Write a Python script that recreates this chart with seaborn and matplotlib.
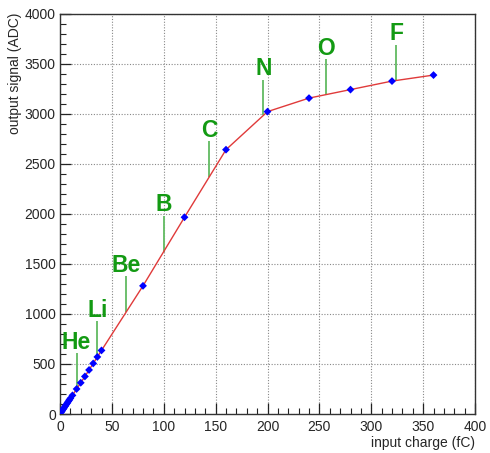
import numpy as np
import pandas as pd
import matplotlib
matplotlib.use("Agg")
import matplotlib.pyplot as plt
import seaborn as sns

# ---- data ----
charge = [1, 2, 3, 4, 5, 6, 7, 8, 9, 10, 12, 16, 20, 24, 28, 32, 36, 40,
          80, 120, 160, 200, 240, 280, 320, 360]
adc = [16, 31, 47, 62, 78, 94, 109, 125, 140, 156, 186, 250, 312, 375, 440, 505, 570, 635,
       1280, 1965, 2640, 3020, 3155, 3240, 3325, 3385]
labels = ["He", "Li", "Be", "B", "C", "N", "O", "F"]
label_charge = [16, 36, 64, 100, 144, 196, 256, 324]
x_ticks = [0, 50, 100, 150, 200, 250, 300, 350, 400]
y_ticks = [0, 500, 1000, 1500, 2000, 2500, 3000, 3500, 4000]

df = pd.DataFrame({"charge": charge, "adc": adc})

sns.set_style("ticks")
plt.rcParams["font.family"] = ["Liberation Sans", "DejaVu Sans"]

fig = plt.figure(figsize=(4.9, 4.53), dpi=100)
ax = fig.add_axes([60 / 490, 1 - 414 / 453, 415 / 490, 400.5 / 453])

sns.lineplot(data=df, x="charge", y="adc", ax=ax, color="#e03a3a", lw=1.0,
             sort=True, estimator=None, zorder=3)
sns.scatterplot(data=df, x="charge", y="adc", ax=ax, color="#0000ff", marker="D",
                s=16, edgecolor="none", zorder=4)

line_len = 355
bottoms = np.interp(label_charge, charge, adc)
green = "#139a13"
for lab, xc, yb in zip(labels, label_charge, bottoms):
    ax.vlines(xc, yb, yb + line_len, color="#6cbf6c", lw=1.4, zorder=2)
    ax.text(xc, yb + line_len + 45, lab, color=green, fontsize=16.5,
            fontweight="bold", ha="center", va="baseline", zorder=5)

ax.set_xlim(0, 400)
ax.set_ylim(0, 4000)
ax.set_xticks(x_ticks)
ax.set_yticks(y_ticks)
ax.set_xticks(np.arange(0, 401, 10), minor=True)
ax.set_yticks(np.arange(0, 4001, 100), minor=True)
ax.tick_params(which="major", direction="in", length=8, width=0.9, labelsize=10,
               color="#222222", pad=3)
ax.tick_params(which="minor", direction="in", length=4, width=0.8, color="#222222")
ax.tick_params(axis="x", pad=4)
ax.grid(True, which="major", linestyle=(0, (1, 1.5)), color="#888888", lw=0.8)
ax.set_axisbelow(True)
for s in ax.spines.values():
    s.set_visible(True)
    s.set_color("#333333")
    s.set_linewidth(1.0)

ax.set_xlabel("")
ax.set_ylabel("")
fig.text(475 / 490, 1 - 443 / 453, "input charge (fC)", ha="right", va="center",
         fontsize=10)
fig.text(15 / 490, 1 - 13 / 453, "output signal (ADC)", ha="center", va="top",
         rotation=90, fontsize=10)

fig.savefig("out.png", dpi=100)
